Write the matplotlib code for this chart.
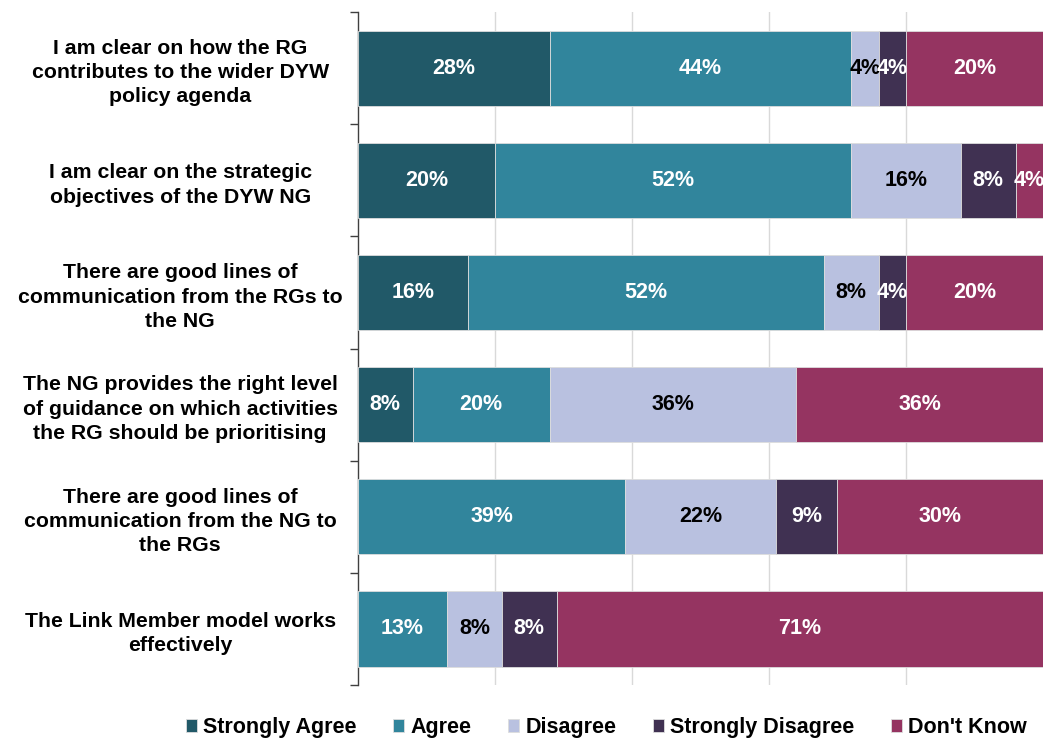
import matplotlib.pyplot as plt
import numpy as np

plt.rcParams['font.family'] = ['Liberation Sans', 'DejaVu Sans']

questions = [
    "I am clear on how the RG\ncontributes to the wider DYW\npolicy agenda",
    "I am clear on the strategic\nobjectives of the DYW NG",
    "There are good lines of\ncommunication from the RGs to\nthe NG",
    "The NG provides the right level\nof guidance on which activities\nthe RG should be prioritising",
    "There are good lines of\ncommunication from the NG to\nthe RGs",
    "The Link Member model works\neffectively",
]
categories = ["Strongly Agree", "Agree", "Disagree", "Strongly Disagree", "Don't Know"]
strongly_agree = [28, 20, 16, 8, 0, 0]
agree = [44, 52, 52, 20, 39, 13]
disagree = [4, 16, 8, 36, 22, 8]
strongly_disagree = [4, 8, 4, 0, 9, 8]
dont_know = [20, 4, 20, 36, 30, 71]

series = [strongly_agree, agree, disagree, strongly_disagree, dont_know]
colors = ["#215968", "#31859C", "#B9C1E0", "#403152", "#953461"]
text_colors = ["white", "white", "black", "white", "white"]

fig = plt.figure(figsize=(10.43, 7.42), dpi=100)
ax = fig.add_axes([0.3432, 0.0768, 0.6568, 0.907])

y = np.arange(len(questions))
left = np.zeros(len(questions))
for vals, col, tcol, name in zip(series, colors, text_colors, categories):
    vals = np.array(vals, dtype=float)
    ax.barh(y, vals, left=left, height=0.67, color=col, edgecolor="#dddddd",
            linewidth=0.6, label=name, zorder=3)
    for yi, v, l in zip(y, vals, left):
        if v > 0:
            ax.text(l + v / 2, yi, f"{v:.0f}%", ha="center", va="center",
                    color=tcol, fontsize=15.5, fontweight="bold", zorder=4)
    left += vals

ax.set_xlim(0, 100)
ax.set_ylim(len(questions) - 0.5, -0.5)
ax.set_xticks([20, 40, 60, 80])
ax.xaxis.grid(True, color="#d9d9d9", linewidth=1, zorder=0)
ax.tick_params(axis="x", length=0, labelbottom=False)

ax.set_yticks(y)
ax.set_yticklabels(questions, fontsize=15.3, fontweight="bold", ha="center",
                   multialignment="center", linespacing=1.35)
ax.tick_params(axis="y", length=0, pad=128)
ax.set_yticks(np.arange(len(questions) + 1) - 0.5, minor=True)
ax.tick_params(axis="y", which="minor", length=6, width=1, color="#404040")

for s in ["top", "right", "bottom"]:
    ax.spines[s].set_visible(False)
ax.spines["left"].set_color("#404040")
ax.spines["left"].set_linewidth(1)

fig.legend(loc="lower center", bbox_to_anchor=(0.5815, -0.021), ncol=5,
           frameon=False, handlelength=0.5, handleheight=0.5,
           handletextpad=0.3, columnspacing=1.7, prop={"weight": "bold", "size": 15.5})

fig.savefig("out.png", dpi=100)
